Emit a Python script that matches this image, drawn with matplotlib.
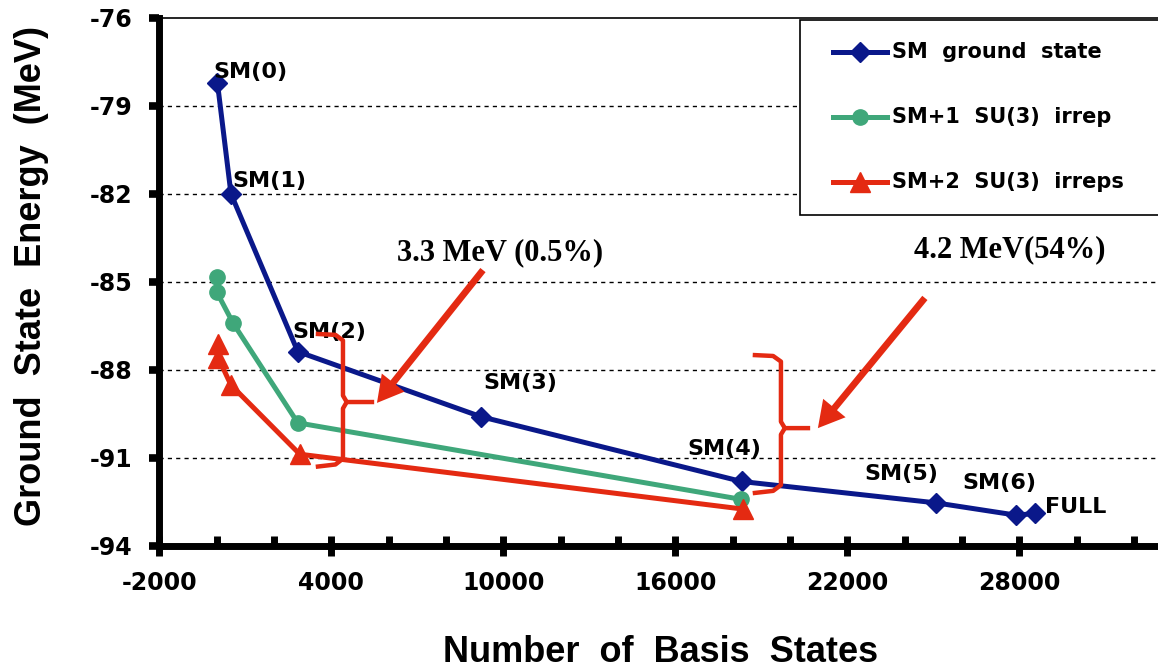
import matplotlib
matplotlib.use('Agg')
import matplotlib.pyplot as plt
from matplotlib.patches import Rectangle, FancyArrowPatch
from matplotlib.lines import Line2D

# ground state energy (MeV) vs number of basis states
sm_x = [30, 500, 2830, 9220, 18310, 25100, 27900, 28540]
sm_y = [-78.23, -82.0, -87.38, -89.6, -91.81, -92.54, -92.96, -92.9]
sm_labels = ['SM(0)', 'SM(1)', 'SM(2)', 'SM(3)', 'SM(4)', 'SM(5)', 'SM(6)', 'FULL']

sm1_x = [0, 0, 580, 2830, 18300]
sm1_y = [-84.83, -85.34, -86.42, -89.81, -92.42]

sm2_x = [60, 60, 500, 2900, 18350]
sm2_y = [-87.13, -87.6, -88.52, -90.88, -92.75]

series_names = ['SM  ground  state', 'SM+1  SU(3)  irrep', 'SM+2  SU(3)  irreps']
gap_texts = ['3.3 MeV (0.5%)', '4.2 MeV(54%)']

xticks = [-2000, 4000, 10000, 16000, 22000, 28000]
yticks = [-94, -91, -88, -85, -82, -79, -76]

# label offsets in pixels from the point
label_off = [(-4, 11), (1, 13), (-5, 20), (2, 34), (-54, 32), (-72, 29), (-54, 32), (10, 6)]

# braces: x of vertical, x of hook ends, x of nub, y top, y middle, y bottom
braces = [(4407, 3535, 5418, -86.78, -89.1, -91.25),
          (19685, 18778, 20627, -87.5, -89.99, -92.15)]
# arrows: tail, tip ; text centre
arrows = [((9290, -84.6), (5593, -89.13)), ((24706, -85.55), (20974, -89.99))]
gap_pos = [(9885, -84.0), (27670, -83.9)]

blue = '#0A188A'
green = '#3FA77A'
red = '#E42A12'
wide = 'DejaVu Sans'

plt.rcParams['font.family'] = ['Liberation Sans', 'DejaVu Sans']
plt.rcParams['font.weight'] = 'bold'
plt.rcParams['axes.unicode_minus'] = False

W, H = 1158, 671
fig = plt.figure(figsize=(W/100, H/100), dpi=100)
ax = fig.add_axes([159.3/W, 1-545.7/H, 1032/W, 527.8/H])
ax.set_xlim(-2000, 34000)
ax.set_ylim(-94, -76)

for yv in yticks[1:-1]:
    ax.axhline(yv, color='black', lw=1.0, ls=(0, (3, 3)), zorder=1)

ax.plot(sm_x, sm_y, color=blue, lw=3.6, marker='D', ms=10, zorder=3)
ax.plot(sm1_x, sm1_y, color=green, lw=3.6, marker='o', ms=11, zorder=4)
ax.plot(sm2_x, sm2_y, color=red, lw=3.6, marker='^', ms=14, zorder=5)

for i in range(len(sm_labels)):
    ax.annotate(sm_labels[i], (sm_x[i], sm_y[i]), xytext=label_off[i],
                textcoords='offset pixels', ha='left', va='center',
                fontsize=16, fontweight='bold', family=wide, zorder=6)

def brace(xv, xl, xn, yt, ym, yb):
    dx = (xv - xl) * 0.3
    dy = 0.22
    up_x = [xl, xv - dx, xv, xv, xv + dx * 0.5, xn]
    up_y = [yt, yt - 0.03, yt - dy, ym + dy, ym, ym]
    lo_x = [xv + dx * 0.5, xv, xv, xv - dx, xl]
    lo_y = [ym, ym - dy, yb + dy, yb + 0.02, yb - 0.05]
    ax.plot(up_x, up_y, color=red, lw=3.2, zorder=6, solid_joinstyle='round')
    ax.plot(lo_x, lo_y, color=red, lw=3.2, zorder=6, solid_joinstyle='round')

for b in braces:
    brace(*b)

for (tail, tip), txt, pos in zip(arrows, gap_texts, gap_pos):
    ar = FancyArrowPatch(tail, tip, arrowstyle='simple,head_length=0.85,head_width=0.95,tail_width=0.22',
                         mutation_scale=22, color=red, lw=0, shrinkA=0, shrinkB=0, zorder=7)
    ax.add_patch(ar)
    ax.text(pos[0], pos[1], txt, ha='center', va='center', fontsize=22,
            fontweight='bold', family='Liberation Serif', zorder=7)

ax.set_xticks(xticks)
ax.set_xticks(range(-2000, 34001, 2000), minor=True)
ax.set_yticks(yticks)
ax.tick_params(axis='x', which='major', direction='inout', length=14.4, width=5,
               labelsize=17, pad=11)
ax.tick_params(axis='x', which='minor', direction='in', length=7.2, width=5)
ax.tick_params(axis='y', which='major', direction='out', length=7.2, width=5.5,
               labelsize=17, pad=12)
for lab in ax.get_xticklabels() + ax.get_yticklabels():
    lab.set_family(wide)
    lab.set_fontweight('bold')
ax.spines['left'].set_linewidth(5)
ax.spines['bottom'].set_linewidth(5)
ax.spines['top'].set_linewidth(1.2)
ax.spines['right'].set_visible(False)

ax.set_xlabel('Number  of  Basis  States', fontsize=26, fontweight='bold', va='center')
ax.xaxis.set_label_coords((661-159.3)/1032, (545.7-653)/527.8)
ax.set_ylabel('Ground  State  Energy  (MeV)', fontsize=26, fontweight='bold', va='center')
ax.yaxis.set_label_coords((31-159.3)/1032, (545.7-276)/527.8)

# legend box, cut at the right edge like the original
fig.add_artist(Rectangle((800/W, 1-215/H), 400/W, 195/H, transform=fig.transFigure,
                         fc='white', ec='black', lw=1.2, zorder=10))
styles = [(blue, 'D', 10), (green, 'o', 11), (red, '^', 14)]
rows = [52, 117, 182]
for name, (c, m, s), r in zip(series_names, styles, rows):
    fig.add_artist(Line2D([833/W, 887/W], [1-r/H, 1-r/H], transform=fig.transFigure,
                          color=c, lw=3.6, zorder=11))
    fig.add_artist(Line2D([860/W], [1-r/H], transform=fig.transFigure, color=c,
                          marker=m, ms=s, zorder=11))
    fig.text(892/W, 1-r/H, name, ha='left', va='center', fontsize=15,
             fontweight='bold', family=wide, zorder=12)

fig.savefig('out.png', dpi=100)
